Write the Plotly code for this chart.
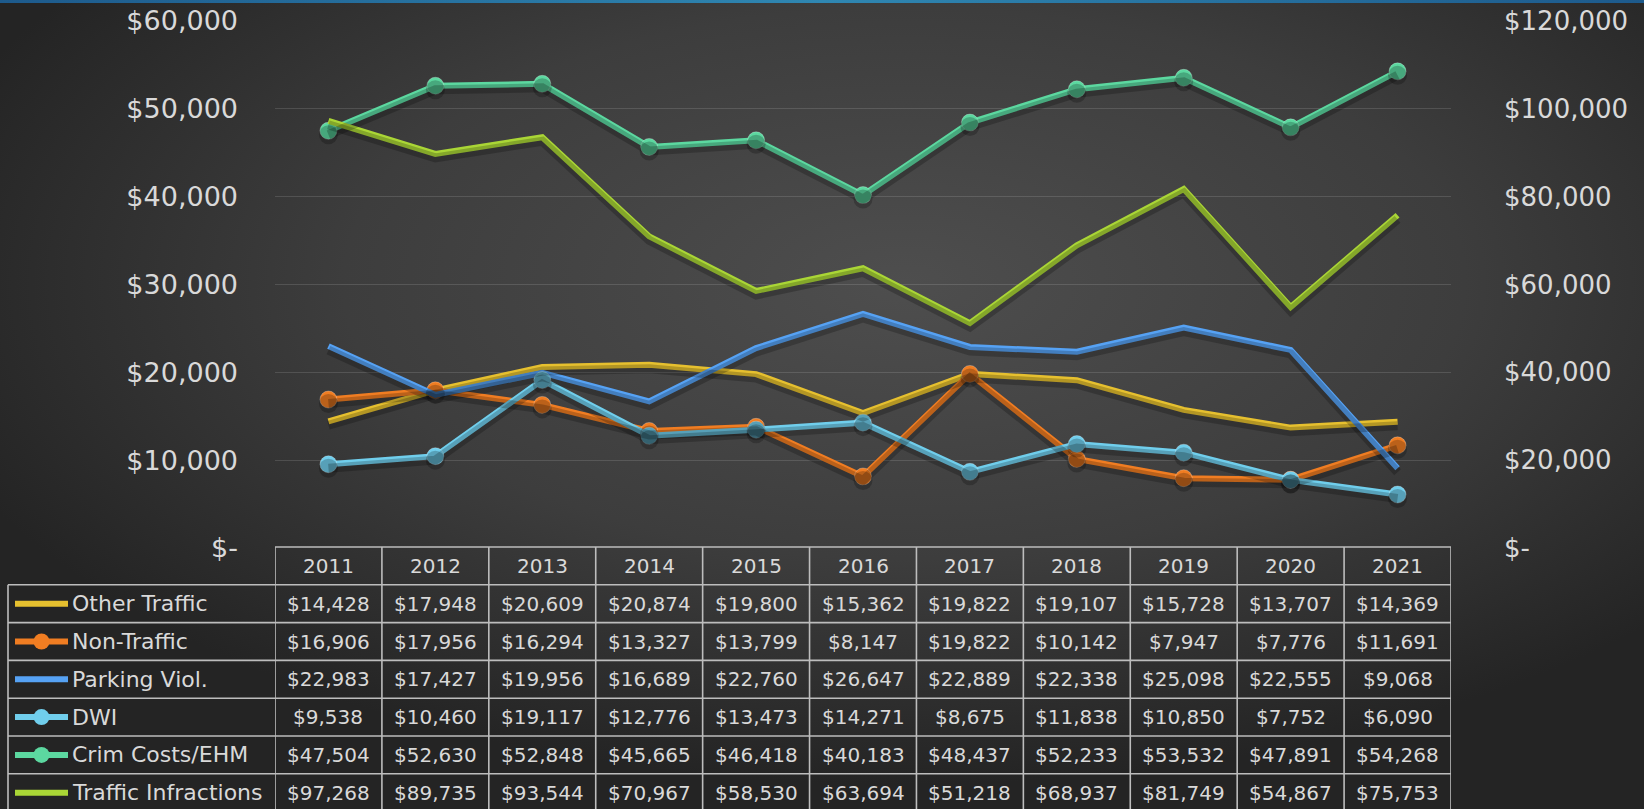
import base64
import plotly.graph_objects as go

years = ["2011", "2012", "2013", "2014", "2015", "2016", "2017", "2018", "2019", "2020", "2021"]
other_traffic = [14428, 17948, 20609, 20874, 19800, 15362, 19822, 19107, 15728, 13707, 14369]
non_traffic = [16906, 17956, 16294, 13327, 13799, 8147, 19822, 10142, 7947, 7776, 11691]
parking_viol = [22983, 17427, 19956, 16689, 22760, 26647, 22889, 22338, 25098, 22555, 9068]
dwi = [9538, 10460, 19117, 12776, 13473, 14271, 8675, 11838, 10850, 7752, 6090]
crim_costs = [47504, 52630, 52848, 45665, 46418, 40183, 48437, 52233, 53532, 47891, 54268]
traffic_infr = [97268, 89735, 93544, 70967, 58530, 63694, 51218, 68937, 81749, 54867, 75753]

left_ticks = [0, 10000, 20000, 30000, 40000, 50000, 60000]
right_ticks = [0, 20000, 40000, 60000, 80000, 100000, 120000]

series = [
    ("Other Traffic", other_traffic, "#E6C02F", False, "y"),
    ("Non-Traffic", non_traffic, "#F07D22", True, "y"),
    ("Parking Viol.", parking_viol, "#56A2F4", False, "y"),
    ("DWI", dwi, "#70CEEC", True, "y"),
    ("Crim Costs/EHM", crim_costs, "#5CD8A0", True, "y"),
    ("Traffic Infractions", traffic_infr, "#AAD636", False, "y2"),
]

W, H = 1644, 809
X0, X1 = 275, 1451          # plot area px
Y_TOP, Y_ZERO = 21, 548     # px from top
def py(px):
    return 1 - px / H
def px_x(px):
    return px / W

def money(v):
    return "${:,}".format(v)

def tick_txt(v):
    return "$-" if v == 0 else money(v)

FONT = "'DejaVu Sans', sans-serif"
TXT = "#D9D9D9"

fig = go.Figure()

shadow_px = 4
dl = shadow_px * (left_ticks[-1] - left_ticks[0]) / (Y_ZERO - Y_TOP)
dr = shadow_px * (right_ticks[-1] - right_ticks[0]) / (Y_ZERO - Y_TOP)

for name, vals, col, mk, ax in series:
    fig.add_trace(go.Scatter(
        x=years, y=vals, mode="lines+markers" if mk else "lines",
        line=dict(color="rgba(0,0,0,0.22)", width=9),
        marker=dict(size=19, color="rgba(0,0,0,0.22)"),
        yaxis="y3" if ax == "y" else "y4", hoverinfo="skip", showlegend=False))

for name, vals, col, mk, ax in series:
    fig.add_trace(go.Scatter(
        x=years, y=vals, name=name, mode="lines+markers" if mk else "lines",
        line=dict(color=col, width=6),
        marker=dict(size=17, color=col, line=dict(width=1, color="rgba(255,255,255,0.25)")),
        yaxis=ax, showlegend=False))

svg = f'''<svg xmlns="http://www.w3.org/2000/svg" width="{W}" height="{H}" viewBox="0 0 {W} {H}" preserveAspectRatio="none">
<defs><radialGradient id="g" cx="0.55" cy="0.35" r="0.62" gradientUnits="objectBoundingBox">
<stop offset="0" stop-color="#4e4e4e"/><stop offset="0.55" stop-color="#3d3d3d"/><stop offset="1" stop-color="#242424"/></radialGradient>
<linearGradient id="b" x1="0" x2="1" y1="0" y2="0"><stop offset="0" stop-color="#1d5a8c"/><stop offset="0.5" stop-color="#2f87b2"/><stop offset="1" stop-color="#1d5a8c"/></linearGradient></defs>
<rect width="{W}" height="{H}" fill="url(#g)"/><rect width="{W}" height="3" fill="url(#b)"/></svg>'''
src = "data:image/svg+xml;base64," + base64.b64encode(svg.encode()).decode()
fig.add_layout_image(dict(source=src, xref="paper", yref="paper", x=0, y=1, sizex=1, sizey=1,
                          xanchor="left", yanchor="top", sizing="stretch", layer="below"))

dom_y = [py(Y_ZERO), py(Y_TOP)]
fig.update_layout(
    width=W, height=H, margin=dict(l=0, r=0, t=0, b=0, pad=0, autoexpand=False), autosize=False,
    paper_bgcolor="#333333", plot_bgcolor="rgba(0,0,0,0)",
    font=dict(family=FONT, color=TXT), showlegend=False,
    xaxis=dict(domain=[px_x(X0), px_x(X1)], type="category", range=[-0.5, 10.5], automargin=False,
               showgrid=False, showticklabels=False, zeroline=False, showline=False),
    yaxis=dict(domain=dom_y, range=[left_ticks[0], left_ticks[-1]], tickvals=left_ticks, automargin=False,
               ticktext=[tick_txt(v) for v in left_ticks], showgrid=True,
               gridcolor="rgba(255,255,255,0.13)", gridwidth=1.3, zeroline=False,
               tickfont=dict(size=27, color=TXT), ticks="", ticklabelstandoff=36),
    yaxis2=dict(domain=dom_y, overlaying="y", side="right", range=[right_ticks[0], right_ticks[-1]],
                automargin=False,
                tickvals=right_ticks, ticktext=[tick_txt(v) for v in right_ticks], showgrid=False,
                zeroline=False, tickfont=dict(size=26, color=TXT), ticks="", ticklabelstandoff=52),
    yaxis3=dict(domain=dom_y, overlaying="y", range=[dl, left_ticks[-1] + dl], visible=False, automargin=False),
    yaxis4=dict(domain=dom_y, overlaying="y", range=[dr, right_ticks[-1] + dr], visible=False, automargin=False),
)

T = 547.0
RH = 37.8
LINE = dict(color="#BDBDBD", width=1.6)
TBL_FONT = 20
NAME_FONT = 22
shapes = []
ann = []
n = len(years)
bottom = T + RH * (len(series) + 1)
shapes.append(dict(type="line", xref="paper", yref="paper", x0=px_x(X0), x1=px_x(X1), y0=py(T), y1=py(T), line=LINE))
for r in range(1, len(series) + 2):
    yy = T + RH * r
    shapes.append(dict(type="line", xref="paper", yref="paper", x0=px_x(8), x1=px_x(X1), y0=py(yy), y1=py(yy), line=LINE))
for i in range(n + 1):
    shapes.append(dict(type="line", xref="x", yref="paper", x0=i - 0.5, x1=i - 0.5, y0=py(T), y1=py(bottom), line=LINE))
shapes.append(dict(type="line", xref="paper", yref="paper", x0=px_x(8), x1=px_x(8), y0=py(T + RH), y1=py(bottom), line=LINE))

for i, yr in enumerate(years):
    ann.append(dict(x=i, xref="x", y=py(T + RH / 2), yref="paper", text=yr, showarrow=False,
                    font=dict(size=TBL_FONT, color=TXT), xanchor="center", yanchor="middle"))

for r, (name, vals, col, mk, ax) in enumerate(series):
    cy = T + RH * (r + 1) + RH / 2
    for i, yr in enumerate(years):
        ann.append(dict(x=i, xref="x", y=py(cy), yref="paper", text=money(vals[i]), showarrow=False,
                        font=dict(size=TBL_FONT, color=TXT), xanchor="center", yanchor="middle"))
    ann.append(dict(x=px_x(70), xref="paper", y=py(cy), yref="paper", text=name, showarrow=False,
                    font=dict(size=NAME_FONT, color=TXT), xanchor="left", yanchor="middle"))
    shapes.append(dict(type="line", xref="paper", yref="paper", x0=px_x(15), x1=px_x(68),
                       y0=py(cy), y1=py(cy), line=dict(color=col, width=6)))
    if mk:
        shapes.append(dict(type="circle", xref="paper", yref="paper", xsizemode="pixel", ysizemode="pixel",
                           xanchor=px_x(41.5), yanchor=py(cy), x0=-8, x1=8, y0=-8, y1=8,
                           fillcolor=col, line=dict(width=0)))

fig.update_layout(shapes=shapes, annotations=ann)

fig.write_html("out.html", config={"displayModeBar": False},
               post_script="document.body.style.margin='0';")
